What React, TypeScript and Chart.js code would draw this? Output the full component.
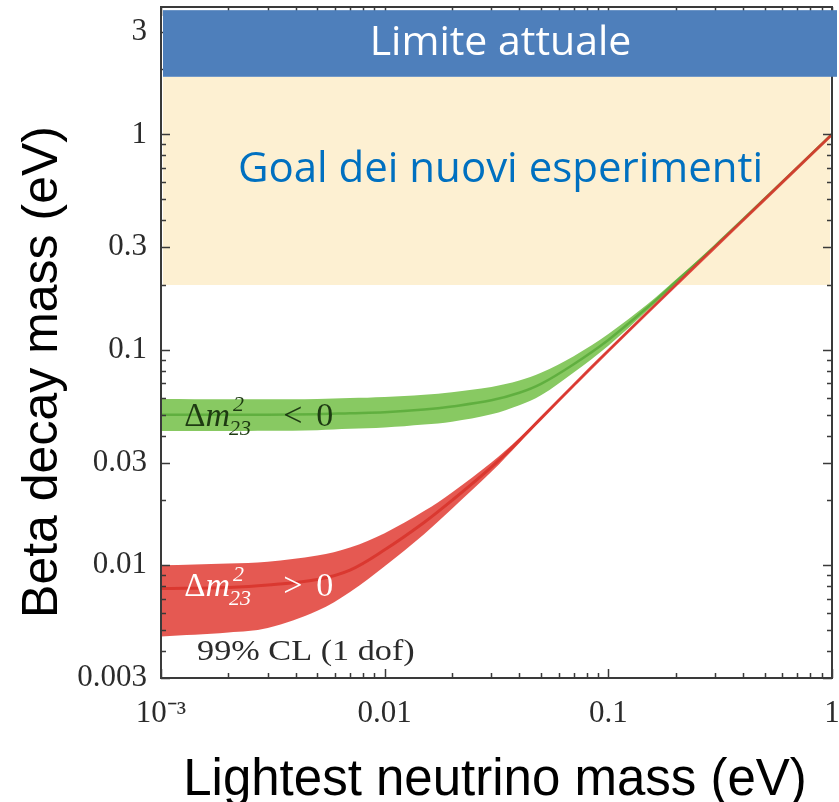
import { useEffect, useRef } from 'react';
import { Chart, registerables } from 'chart.js';

Chart.register(...registerables);

// Lightest neutrino mass (eV) sampled along the bands
const lightestMass = [0.001, 0.002, 0.003, 0.005, 0.007, 0.01, 0.015, 0.02, 0.03, 0.04, 0.05, 0.07, 0.1, 0.15, 0.2, 0.3, 0.5, 1];

// Inverted ordering (Δm²23 < 0): beta decay mass band (eV)
const invertedLow = [0.042, 0.042, 0.0421, 0.0424, 0.043, 0.0436, 0.045, 0.0464, 0.0502, 0.0553, 0.0615, 0.0785, 0.1045, 0.1525, 0.2015, 0.301, 0.501, 0.999];
const invertedHigh = [0.0592, 0.059, 0.059, 0.0592, 0.0597, 0.0604, 0.0619, 0.0636, 0.0672, 0.072, 0.0782, 0.0935, 0.1185, 0.163, 0.2115, 0.307, 0.504, 1.003];
const invertedCentral = [0.05, 0.05, 0.05, 0.0503, 0.0508, 0.0513, 0.0528, 0.0546, 0.0583, 0.0632, 0.0695, 0.0858, 0.1112, 0.1577, 0.2065, 0.304, 0.5025, 1.001];

// Normal ordering (Δm²23 > 0): beta decay mass band (eV)
const normalLow = [0.00468, 0.00488, 0.00512, 0.00615, 0.00752, 0.0099, 0.01395, 0.0183, 0.02715, 0.037, 0.04725, 0.06755, 0.098, 0.148, 0.198, 0.298, 0.497, 0.995];
const normalHigh = [0.01, 0.0102, 0.0104, 0.0111, 0.0121, 0.0141, 0.01785, 0.0218, 0.03, 0.039, 0.049, 0.06944, 0.1003, 0.1509, 0.201, 0.301, 0.502, 1.003];
const normalCentral = [0.0078, 0.0079, 0.0081, 0.0086, 0.0095, 0.0118, 0.0158, 0.02, 0.02855, 0.038, 0.0481, 0.0685, 0.0991, 0.1494, 0.1995, 0.2995, 0.4995, 0.999];

// Horizontal bands (eV): present limit and target of the new experiments
const currentLimitBand = [1.85, 3.77];
const goalBand = [0.2, 1.85];

// Axes
const X_MIN = 0.001;
const X_MAX = 1;
const Y_MIN = 0.003;
const Y_MAX = 3.9;
const xTickValues = [0.001, 0.01, 0.1, 1];
const xTickLabels = ['10⁻³', '0.01', '0.1', '1'];
const yTickValues = [0.003, 0.01, 0.03, 0.1, 0.3, 1, 3];
const yTickLabels = ['0.003', '0.01', '0.03', '0.1', '0.3', '1', '3'];

// Text anchors in data coordinates [mass, beta mass]
const invertedLabelAt = [0.00127, 0.0443];
const normalLabelAt = [0.00127, 0.00718];
const confidenceLabelAt = [0.00145, 0.00362];

const SERIF = '"Liberation Serif", "Times New Roman", serif';
const SANS = '"Liberation Sans", Arial, sans-serif';
const CALLOUT = '"Open Sans", "Noto Sans", sans-serif';

const near = (a: number, b: number) => Math.abs(Math.log10(a) - Math.log10(b)) < 1e-6;

const labelFor = (values: number[], labels: string[]) => (v: number | string) => {
  const n = Number(v);
  const i = values.findIndex((t) => near(t, n));
  return i >= 0 ? labels[i] : '';
};

const points = (ys: number[]) => lightestMass.map((x, i) => ({ x, y: ys[i] }));

function drawDeltaM(ctx: CanvasRenderingContext2D, x: number, y: number, color: string, relation: string) {
  ctx.fillStyle = color;
  ctx.textAlign = 'left';
  ctx.textBaseline = 'alphabetic';
  ctx.font = `33px ${SERIF}`;
  ctx.fillText('Δ', x, y);
  let cx = x + ctx.measureText('Δ').width;
  ctx.font = `italic 34px ${SERIF}`;
  ctx.fillText('m', cx, y);
  cx += ctx.measureText('m').width;
  ctx.font = `italic 22px ${SERIF}`;
  ctx.fillText('2', cx + 3, y - 15);
  ctx.fillText('23', cx - 1, y + 9);
  ctx.font = `34px ${SERIF}`;
  ctx.fillText(relation, x + 99, y);
  ctx.fillText('0', x + 132, y);
}

// keep the plot frame exactly where the layout padding puts it
const fixAxisBox = (size: 'width' | 'height', value: number) => (scale: any) => {
  scale[size] = value;
  scale.paddingLeft = 0;
  scale.paddingRight = 0;
  scale.paddingTop = 0;
  scale.paddingBottom = 0;
};

const decorations = {
  id: 'decorations',
  beforeDatasetsDraw(chart: any) {
    const { ctx, chartArea: a, scales } = chart;
    const y = scales.y;
    const top = y.getPixelForValue(goalBand[1]);
    const bottom = y.getPixelForValue(goalBand[0]);
    ctx.save();
    ctx.fillStyle = '#FDF0D2';
    ctx.fillRect(a.left + 2, top, a.right - a.left - 4, bottom - top);
    ctx.restore();
  },
  afterDraw(chart: any) {
    const { ctx, chartArea: a, scales } = chart;
    const xs = scales.x;
    const ys = scales.y;
    ctx.save();

    // inward tick marks on all four sides
    const isMinorExtra = (v: number) => {
      const m = v / Math.pow(10, Math.floor(Math.log10(v) + 1e-9));
      return Math.abs(m - 1.5) < 1e-6;
    };
    const isMajor = (v: number, list: number[]) => {
      const l = Math.log10(v);
      return list.some((t) => near(t, v)) || Math.abs(l - Math.round(l)) < 1e-6;
    };
    ctx.strokeStyle = '#3a3a3a';
    ctx.lineWidth = 1.5;
    ctx.beginPath();
    for (const t of xs.ticks) {
      const v = t.value;
      if (v < X_MIN * 0.999 || v > X_MAX * 1.001 || isMinorExtra(v)) continue;
      const px = Math.round(xs.getPixelForValue(v)) + 0.5;
      const len = isMajor(v, xTickValues) ? 9 : 5;
      ctx.moveTo(px, a.bottom);
      ctx.lineTo(px, a.bottom - len);
      ctx.moveTo(px, a.top);
      ctx.lineTo(px, a.top + len);
    }
    for (const t of ys.ticks) {
      const v = t.value;
      if (v < Y_MIN * 0.999 || v > Y_MAX * 0.99 || isMinorExtra(v)) continue;
      const py = Math.round(ys.getPixelForValue(v)) + 0.5;
      const len = isMajor(v, yTickValues) ? 9 : 5;
      ctx.moveTo(a.left, py);
      ctx.lineTo(a.left + len, py);
      ctx.moveTo(a.right, py);
      ctx.lineTo(a.right - len, py);
    }
    ctx.stroke();

    // frame
    ctx.strokeStyle = '#3a3a3a';
    ctx.lineWidth = 2;
    ctx.strokeRect(a.left, a.top, a.right - a.left, a.bottom - a.top);

    // present-limit band, drawn over the frame
    const bTop = ys.getPixelForValue(currentLimitBand[1]);
    const bBottom = ys.getPixelForValue(currentLimitBand[0]);
    ctx.fillStyle = '#4E7FBB';
    ctx.fillRect(a.left + 2, bTop, a.right - a.left + 3, bBottom - bTop);

    // callouts
    const midX = (a.left + a.right) / 2 + 4;
    ctx.textAlign = 'center';
    ctx.textBaseline = 'middle';
    ctx.fillStyle = '#FFFFFF';
    ctx.font = `41px ${CALLOUT}`;
    ctx.fillText('Limite attuale', midX, (bTop + bBottom) / 2);
    ctx.fillStyle = '#0070C0';
    ctx.font = `42px ${CALLOUT}`;
    ctx.fillText('Goal dei nuovi esperimenti', midX, 170);

    // band labels
    drawDeltaM(ctx, xs.getPixelForValue(invertedLabelAt[0]), ys.getPixelForValue(invertedLabelAt[1]), '#1d3a12', '<');
    drawDeltaM(ctx, xs.getPixelForValue(normalLabelAt[0]), ys.getPixelForValue(normalLabelAt[1]), '#FFFFFF', '>');

    ctx.fillStyle = '#2b2b2b';
    ctx.textAlign = 'left';
    ctx.textBaseline = 'alphabetic';
    ctx.font = `29px ${SERIF}`;
    const cx = xs.getPixelForValue(confidenceLabelAt[0]);
    const cy = ys.getPixelForValue(confidenceLabelAt[1]);
    ctx.save();
    ctx.translate(cx, cy);
    ctx.scale(1.18, 1);
    ctx.fillText('99% CL (1 dof)', 0, 0);
    ctx.restore();

    // axis titles
    ctx.fillStyle = '#000000';
    ctx.font = `51px ${SANS}`;
    ctx.textAlign = 'center';
    ctx.textBaseline = 'alphabetic';
    ctx.fillText('Lightest neutrino mass (eV)', 495, 795);
    ctx.save();
    ctx.translate(57, 372);
    ctx.rotate(-Math.PI / 2);
    ctx.font = `50px ${SANS}`;
    ctx.fillText('Beta decay mass (eV)', 0, 0);
    ctx.restore();

    ctx.restore();
  },
};

export default function App() {
  const canvasRef = useRef<HTMLCanvasElement | null>(null);

  useEffect(() => {
    const canvas = canvasRef.current;
    if (!canvas) return;

    const curve = { pointRadius: 0, cubicInterpolationMode: 'default' as const, tension: 0.35 };
    const edge = { ...curve, borderColor: 'transparent', borderWidth: 0 };

    const chart = new Chart(canvas, {
      type: 'line',
      data: {
        datasets: [
          { label: 'normal central', data: points(normalCentral), ...curve, borderColor: 'rgba(216, 50, 42, 0.85)', borderWidth: 3, fill: false },
          { label: 'normal high', data: points(normalHigh), ...edge, backgroundColor: 'rgba(228, 80, 73, 0.95)', fill: '+1' },
          { label: 'normal low', data: points(normalLow), ...edge, fill: false },
          { label: 'inverted central', data: points(invertedCentral), ...curve, borderColor: 'rgba(92, 172, 60, 0.9)', borderWidth: 2.5, fill: false },
          { label: 'inverted high', data: points(invertedHigh), ...edge, backgroundColor: '#88C962', fill: '+1' },
          { label: 'inverted low', data: points(invertedLow), ...edge, fill: false },
        ],
      },
      options: {
        responsive: false,
        animation: false,
        events: [],
        layout: { padding: { left: 0, top: 7, right: 7, bottom: 0 } },
        plugins: { legend: { display: false }, tooltip: { enabled: false } },
        scales: {
          x: {
            type: 'logarithmic',
            min: X_MIN,
            max: X_MAX,
            grid: { display: false, drawTicks: false },
            border: { display: false },
            ticks: {
              autoSkip: false,
              maxRotation: 0,
              minRotation: 0,
              padding: 17,
              color: '#2b2b2b',
              font: { family: SERIF, size: 31 },
              callback: labelFor(xTickValues, xTickLabels),
            },
            afterFit: fixAxisBox('height', 124),
          },
          y: {
            type: 'logarithmic',
            min: Y_MIN,
            max: Y_MAX,
            grid: { display: false, drawTicks: false },
            border: { display: false },
            ticks: {
              autoSkip: false,
              padding: 14,
              color: '#2b2b2b',
              font: { family: SERIF, size: 31 },
              callback: labelFor(yTickValues, yTickLabels),
            },
            afterFit: fixAxisBox('width', 161),
          },
        },
      },
      plugins: [decorations],
    });

    return () => chart.destroy();
  }, []);

  return (
    <div style={{ position: 'fixed', left: 0, top: 0, width: 839, height: 802, background: '#fff' }}>
      <canvas ref={canvasRef} width={839} height={802} style={{ display: 'block' }} />
    </div>
  );
}
